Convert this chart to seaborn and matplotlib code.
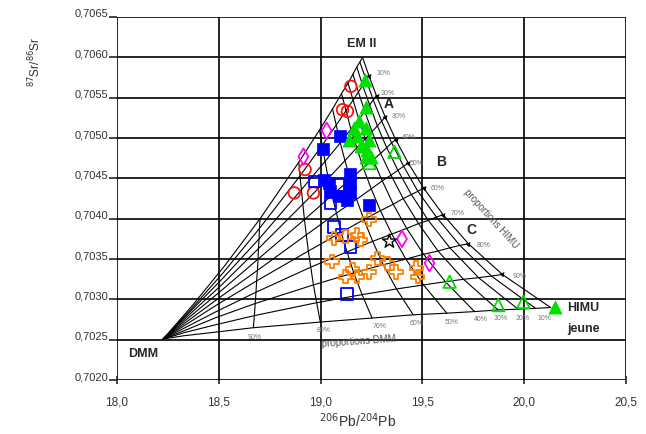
import numpy as np
import pandas as pd
import seaborn as sns
import matplotlib.pyplot as plt
from matplotlib.ticker import FuncFormatter, MultipleLocator

sns.set_theme(style="white")
plt.rcParams['font.family'] = ['Liberation Sans', 'DejaVu Sans']

# --- mixing grid DMM / EM II / HIMU, nodes ---
# one row per HIMU proportion (in the EM II-HIMU end), columns = DMM proportion
g_levels = [1.0, 0.98, 0.95, 0.9, 0.8, 0.7, 0.6, 0.5, 0.4, 0.3, 0.2, 0.1, 0.0]
h_levels = [0.0, 0.1, 0.2, 0.3, 0.4, 0.5, 0.6, 0.7, 0.8, 0.9, 1.0]
mix_x = [
    [18.227, 18.372, 18.530, 18.703, 18.893, 18.995, 19.059, 19.103, 19.135, 19.159, 19.178, 19.193, 19.206],
    [18.227, 18.368, 18.525, 18.700, 18.899, 19.008, 19.077, 19.125, 19.160, 19.186, 19.207, 19.224, 19.238],
    [18.227, 18.364, 18.519, 18.698, 18.906, 19.022, 19.097, 19.149, 19.188, 19.217, 19.241, 19.259, 19.275],
    [18.227, 18.359, 18.514, 18.695, 18.913, 19.038, 19.120, 19.178, 19.220, 19.253, 19.279, 19.300, 19.318],
    [18.227, 18.355, 18.508, 18.693, 18.921, 19.056, 19.146, 19.210, 19.258, 19.295, 19.325, 19.349, 19.369],
    [18.227, 18.351, 18.502, 18.690, 18.930, 19.078, 19.177, 19.249, 19.303, 19.346, 19.380, 19.408, 19.431],
    [18.227, 18.346, 18.495, 18.686, 18.940, 19.101, 19.213, 19.294, 19.357, 19.406, 19.446, 19.478, 19.506],
    [18.227, 18.342, 18.488, 18.683, 18.952, 19.130, 19.256, 19.350, 19.423, 19.481, 19.529, 19.569, 19.602],
    [18.227, 18.337, 18.481, 18.679, 18.965, 19.163, 19.308, 19.419, 19.506, 19.577, 19.635, 19.684, 19.726],
    [18.227, 18.332, 18.474, 18.675, 18.981, 19.204, 19.373, 19.506, 19.613, 19.702, 19.776, 19.839, 19.893],
    [18.227, 18.327, 18.466, 18.670, 18.999, 19.253, 19.455, 19.620, 19.756, 19.872, 19.970, 20.056, 20.130],
]
mix_y = [
    [0.70251, 0.70293, 0.70342, 0.70400, 0.70470, 0.70510, 0.70536, 0.70555, 0.70568, 0.70579, 0.70588, 0.70594, 0.70600],
    [0.70251, 0.70289, 0.70334, 0.70388, 0.70453, 0.70491, 0.70516, 0.70534, 0.70547, 0.70557, 0.70565, 0.70572, 0.70577],
    [0.70251, 0.70286, 0.70326, 0.70375, 0.70436, 0.70471, 0.70494, 0.70511, 0.70523, 0.70533, 0.70541, 0.70547, 0.70552],
    [0.70251, 0.70282, 0.70318, 0.70363, 0.70418, 0.70450, 0.70472, 0.70488, 0.70499, 0.70508, 0.70515, 0.70521, 0.70526],
    [0.70251, 0.70278, 0.70310, 0.70350, 0.70399, 0.70429, 0.70449, 0.70463, 0.70473, 0.70481, 0.70488, 0.70494, 0.70498],
    [0.70251, 0.70274, 0.70302, 0.70336, 0.70380, 0.70407, 0.70424, 0.70437, 0.70447, 0.70454, 0.70460, 0.70465, 0.70469],
    [0.70251, 0.70270, 0.70294, 0.70323, 0.70360, 0.70383, 0.70399, 0.70410, 0.70418, 0.70425, 0.70430, 0.70434, 0.70438],
    [0.70251, 0.70266, 0.70285, 0.70309, 0.70340, 0.70359, 0.70372, 0.70381, 0.70388, 0.70394, 0.70398, 0.70402, 0.70405],
    [0.70251, 0.70262, 0.70277, 0.70295, 0.70318, 0.70333, 0.70343, 0.70350, 0.70356, 0.70360, 0.70364, 0.70367, 0.70369],
    [0.70251, 0.70259, 0.70268, 0.70280, 0.70296, 0.70306, 0.70313, 0.70318, 0.70322, 0.70325, 0.70327, 0.70329, 0.70331],
    [0.70251, 0.70255, 0.70259, 0.70265, 0.70272, 0.70277, 0.70281, 0.70283, 0.70285, 0.70287, 0.70288, 0.70289, 0.70290],
]

# --- samples ---
red_x = [19.149, 19.108, 19.132, 18.924, 18.871, 18.965]
red_y = [0.70564, 0.70535, 0.70533, 0.70461, 0.70432, 0.70432]
mag_x = [19.030, 18.916, 19.400, 19.535]
mag_y = [0.70509, 0.70477, 0.70375, 0.70345]
bluef_x = [19.095, 19.012, 19.015, 19.040, 19.048, 19.089, 19.147, 19.147, 19.147, 19.131, 19.238]
bluef_y = [0.70503, 0.70487, 0.70448, 0.70444, 0.70434, 0.70428, 0.70456, 0.70444, 0.70432, 0.70423, 0.70417]
blueo_x = [18.974, 19.089, 19.048, 19.065, 19.106, 19.147, 19.131]
blueo_y = [0.70446, 0.70442, 0.70419, 0.70390, 0.70380, 0.70365, 0.70307]
orange_x = [19.238, 19.065, 19.123, 19.180, 19.197, 19.056, 19.280, 19.329, 19.371, 19.238,
            19.123, 19.156, 19.180, 19.470, 19.478]
orange_y = [0.70399, 0.70376, 0.70378, 0.70380, 0.70374, 0.70347, 0.70351, 0.70345, 0.70334,
            0.70334, 0.70328, 0.70337, 0.70328, 0.70339, 0.70328]
sky_x = [19.644, 19.528, 19.520, 19.512, 19.677]
sky_y = [0.70392, 0.70365, 0.70355, 0.70347, 0.70349]
star_x = [19.338]
star_y = [0.70372]
greenf_x = [19.217, 19.222, 19.189, 19.164, 19.222, 19.180, 19.139, 19.238, 19.197, 19.230,
            19.222, 19.247, 20.150]
greenf_y = [0.70572, 0.70539, 0.70521, 0.70512, 0.70512, 0.70502, 0.70498, 0.70498, 0.70490,
            0.70485, 0.70477, 0.70477, 0.70291]
greeno_x = [19.363, 19.240, 19.634, 19.873, 19.996]
greeno_y = [0.70483, 0.70469, 0.70322, 0.70293, 0.70297]

pct_labels = ['10%', '20%', '30%', '40%', '50%', '60%', '70%', '80%', '90%']
himu_lab_x = [19.31, 19.33, 19.385, 19.433, 19.47, 19.573, 19.675, 19.80, 19.98]
himu_lab_y = [0.70580, 0.70555, 0.70527, 0.70501, 0.70468, 0.70438, 0.70407, 0.70367, 0.70328]
dmm_lab_x = [20.10, 19.992, 19.884, 19.785, 19.644, 19.47, 19.288, 19.015, 18.675]
dmm_lab_y = [0.70277, 0.70277, 0.70276, 0.70275, 0.70272, 0.70270, 0.70266, 0.70262, 0.70253]

rows = []
for h, xs, ys in zip(h_levels, mix_x, mix_y):
    for g, x, y in zip(g_levels, xs, ys):
        rows.append((g, h, x, y))
grid = pd.DataFrame(rows, columns=['g', 'h', 'x', 'y'])

fig = plt.figure(figsize=(6.46, 4.34), dpi=100)
ax = fig.add_axes([0.181, 0.124, 0.788, 0.837])

# mixing curves from DMM (constant EM II/HIMU ratio) and iso-DMM curves
sns.lineplot(data=grid, x='x', y='y', units='h', estimator=None, sort=False,
             color='black', lw=0.8, ax=ax, legend=False)
sns.lineplot(data=grid[grid.g <= 0.9], x='x', y='y', units='g', estimator=None, sort=False,
             color='black', lw=0.8, ax=ax, legend=False)
ends = grid[(grid.g == 0.0) & (grid.h > 0) & (grid.h < 1)]
sns.scatterplot(data=ends, x='x', y='y', marker=(3, 0, -40), s=14, color='black',
                edgecolor='black', ax=ax, zorder=4, legend=False)

def pts(x, y, marker, col, filled, s=70, lw=1.3):
    sns.scatterplot(x=x, y=y, marker=marker, s=s, color=col, ax=ax, zorder=5,
                    facecolor=col if filled else 'none', edgecolor=col, linewidth=lw)

pts(red_x, red_y, 'o', '#ff1010', False)
pts(mag_x, mag_y, 'd', '#ff00ff', False)
pts(bluef_x, bluef_y, 's', '#0000ff', True, s=80, lw=0.5)
pts(blueo_x, blueo_y, 's', '#0000ff', False)
pts(orange_x, orange_y, 'P', '#ff8000', False, s=90)
pts(sky_x, sky_y, (8, 2, 0), '#1e90ff', False, s=110)
pts(star_x, star_y, '*', 'black', False, s=110, lw=1.0)
pts(greenf_x, greenf_y, '^', '#00e000', True, s=90, lw=0.5)
pts(greeno_x, greeno_y, '^', '#00e000', False, s=80)

for lab, x, y in zip(pct_labels, himu_lab_x, himu_lab_y):
    ax.text(x, y, lab, fontsize=5, color='#777777', ha='center', va='center')
for lab, x, y in zip(pct_labels, dmm_lab_x, dmm_lab_y):
    ax.text(x, y, lab, fontsize=5, color='#777777', ha='center', va='center')

ax.text(19.186, 0.70248, 'proportions DMM', fontsize=7, color='#555555', ha='center', va='center', rotation=4)
ax.text(19.84, 0.70400, 'proportions HIMU', fontsize=7, color='#555555', ha='center', va='center', rotation=-48)

ax.text(19.20, 0.70616, 'EM II', fontsize=9, fontweight='bold', ha='center', va='center')
ax.text(18.13, 0.70233, 'DMM', fontsize=9, fontweight='bold', ha='center', va='center')
ax.text(20.21, 0.70290, 'HIMU', fontsize=9, fontweight='bold', ha='left', va='center')
ax.text(20.21, 0.70263, 'jeune', fontsize=9, fontweight='bold', ha='left', va='center')
ax.text(19.336, 0.70542, 'A', fontsize=10, fontweight='bold', ha='center', va='center')
ax.text(19.593, 0.70470, 'B', fontsize=10, fontweight='bold', ha='center', va='center')
ax.text(19.74, 0.70386, 'C', fontsize=10, fontweight='bold', ha='center', va='center')

ax.set_xlim(18.0, 20.5)
ax.set_ylim(0.7020, 0.7065)
ax.xaxis.set_major_locator(MultipleLocator(0.5))
ax.yaxis.set_major_locator(MultipleLocator(0.0005))
ax.xaxis.set_major_formatter(FuncFormatter(lambda v, p: f"{v:.1f}".replace('.', ',')))
ax.yaxis.set_major_formatter(FuncFormatter(lambda v, p: f"{v:.4f}".replace('.', ',')))
ax.grid(True, color='black', lw=1.2)
ax.tick_params(axis='x', direction='inout', length=6, width=1.2, labelsize=8.5,
               labelcolor='#333333', bottom=True, pad=9)
ax.tick_params(axis='y', direction='out', length=6, width=1.2, labelsize=8,
               labelcolor='#333333', left=True, pad=0.5)
plt.setp(ax.get_yticklabels(), va='baseline')
for sp in ax.spines.values():
    sp.set_visible(False)
ax.set_xlabel('')
ax.set_ylabel('')

fig.text(0.554, 0.03, r'$^{206}$Pb/$^{204}$Pb', fontsize=10, color='#333333', ha='center', va='center')
fig.text(0.054, 0.857, r'$^{87}$Sr/$^{86}$Sr', fontsize=8.5, color='#333333', rotation=90, ha='center', va='center')

fig.savefig('out.png', dpi=100)
